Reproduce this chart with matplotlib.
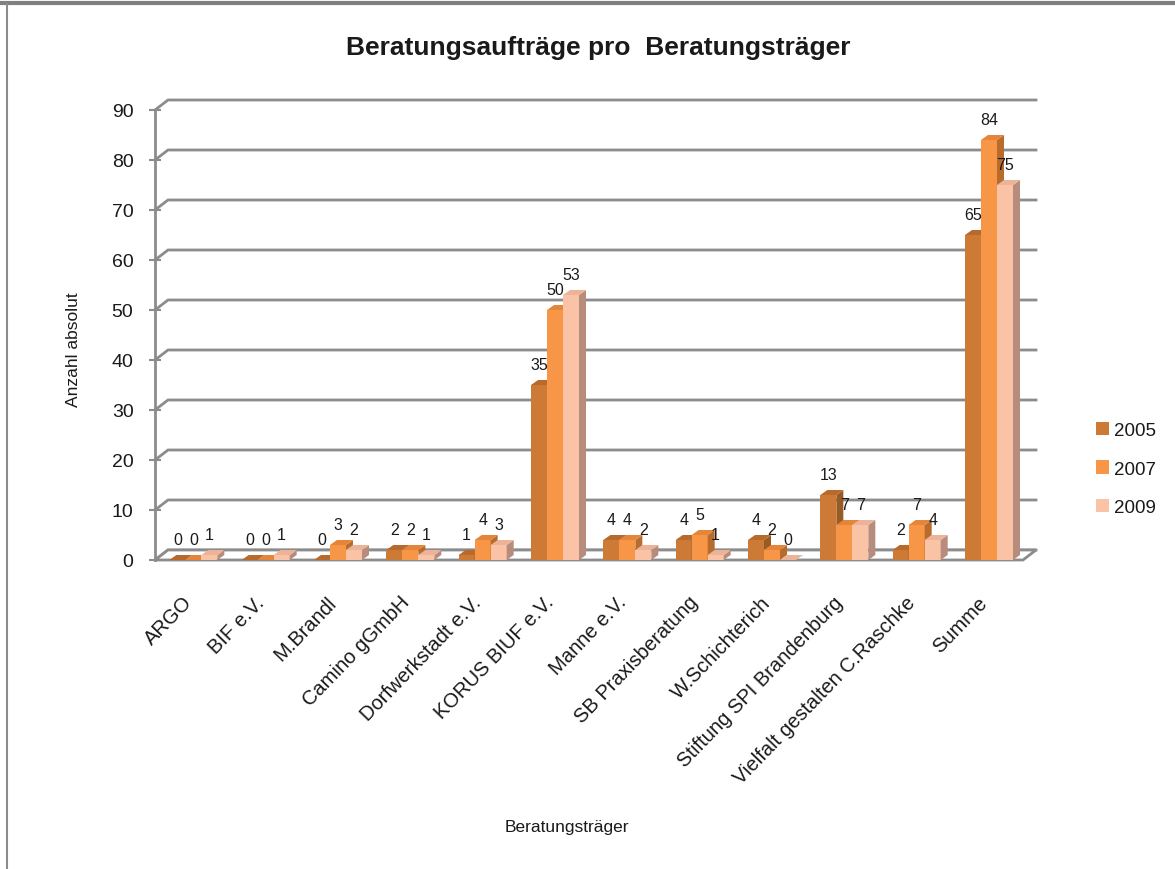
import numpy as np
import matplotlib.pyplot as plt
from matplotlib.patches import Polygon, Patch
from matplotlib.lines import Line2D

plt.rcParams['font.family'] = ['Liberation Sans', 'DejaVu Sans']

categories = ["ARGO", "BIF e.V.", "M.Brandl", "Camino gGmbH", "Dorfwerkstadt e.V.",
              "KORUS BIUF e.V.", "Manne e.V.", "SB Praxisberatung", "W.Schichterich",
              "Stiftung SPI Brandenburg", "Vielfalt gestalten C.Raschke", "Summe"]
years = ["2005", "2007", "2009"]
v2005 = [0, 0, 0, 2, 1, 35, 4, 4, 4, 13, 2, 65]
v2007 = [0, 0, 3, 2, 4, 50, 4, 5, 2, 7, 7, 84]
v2009 = [1, 1, 2, 1, 3, 53, 2, 1, 0, 7, 4, 75]
series = [v2005, v2007, v2009]

front = ["#CC7A36", "#F79646", "#FAC3A6"]
side = ["#9A5A24", "#B86C2C", "#B88C7C"]
top = ["#B8692C", "#E5853A", "#EDB398"]
grid_c = "#8C8C8C"
txt_c = "#1A1A1A"

W, H = 1175, 870
fig = plt.figure(figsize=(W / 100, H / 100), dpi=100)

# front plane of the 3D box: x 155..1023 px, y 561 (0) .. 111 (90)
ax = fig.add_axes([155 / W, 1 - 561 / H, 868 / W, 450 / H])
ax.set_xlim(-0.5, 11.5)
ax.set_ylim(0, 90)
pxx = 868 / 12.0   # pixels per category
pxy = 450 / 90.0   # pixels per unit

# back wall offset and bar depth, in data units
ox, oy = 13 / pxx, 10 / pxy
dx, dy = 7 / pxx, 5 / pxy

# back wall gridlines with slanted connectors
for v in range(0, 91, 10):
    ax.plot([-0.5, -0.5 + ox, 11.5 + ox], [v, v + oy, v + oy],
            color=grid_c, lw=2, clip_on=False, zorder=1, solid_joinstyle='miter')

# floor
ax.add_patch(Polygon([(-0.5, 0), (11.5, 0), (11.5 + ox, oy), (-0.5 + ox, oy)],
                     closed=True, facecolor="white", edgecolor=grid_c, lw=2,
                     clip_on=False, zorder=1.5))

x = np.arange(len(categories))
bw = 16 / pxx
start = -1.5 * bw + 0.03

for i in range(len(categories)):
    for k, vals in enumerate(series):
        v = vals[i]
        x0 = i + start + k * bw
        x1 = x0 + bw
        z = 2 + i * 3 + k
        ax.bar(x0, v, width=bw, align='edge', color=front[k], lw=0, zorder=z)
        ax.add_patch(Polygon([(x1, 0), (x1 + dx, dy), (x1 + dx, v + dy), (x1, v)],
                             closed=True, facecolor=side[k], lw=0, zorder=z))
        ax.add_patch(Polygon([(x0, v), (x1, v), (x1 + dx, v + dy), (x0 + dx, v + dy)],
                             closed=True, facecolor=top[k], lw=0, zorder=z))
        ax.annotate(str(v), (x0 + bw / 2, v), xytext=(0, 9), textcoords='offset points',
                    ha='center', va='bottom', fontsize=11.5, color=txt_c, zorder=100)

# axes styling
for s in ["top", "right", "bottom"]:
    ax.spines[s].set_visible(False)
ax.spines["left"].set_color(grid_c)
ax.spines["left"].set_linewidth(2)
ax.spines["left"].set_zorder(1)
ax.set_facecolor("none")
ax.set_yticks(range(0, 91, 10))
ax.tick_params(axis='y', direction='inout', length=9, width=1.5, color=grid_c,
               labelsize=14, labelcolor=txt_c, pad=11)
ax.set_xticks(x - 0.03)
ax.set_xticklabels(categories, rotation=46, ha='right', va='center',
                   rotation_mode='anchor', fontsize=14.5, color=txt_c)
ax.tick_params(axis='x', length=0, pad=28)

ax.set_ylabel("Anzahl absolut", fontsize=12.5, color=txt_c)
ax.yaxis.set_label_coords((81 - 155) / 868, 0.47)

fig.text(567 / W, 1 - 828 / H, "Beratungsträger", ha='center', va='center',
         fontsize=12.5, color=txt_c)
fig.text(598 / W, 1 - 48 / H, "Beratungsaufträge pro  Beratungsträger",
         ha='center', va='center', fontsize=19, fontweight='bold', color=txt_c)

handles = [Patch(facecolor=front[k], edgecolor='none', label=years[k]) for k in range(3)]
fig.legend(handles=handles, loc='center left', bbox_to_anchor=(1079 / W, 1 - 470 / H),
           frameon=False, fontsize=13.5, handlelength=0.7, handleheight=0.7,
           handletextpad=0.25, labelspacing=1.15, labelcolor=txt_c)

# outer frame lines of the screenshot
fig.add_artist(Line2D([0, 1], [1 - 4 / H, 1 - 4 / H], color="#7F7F7F", lw=3))
fig.add_artist(Line2D([7 / W, 7 / W], [0, 1 - 5 / H], color="#8C8C8C", lw=1.5))

fig.savefig("out.png", dpi=100, facecolor="white")
